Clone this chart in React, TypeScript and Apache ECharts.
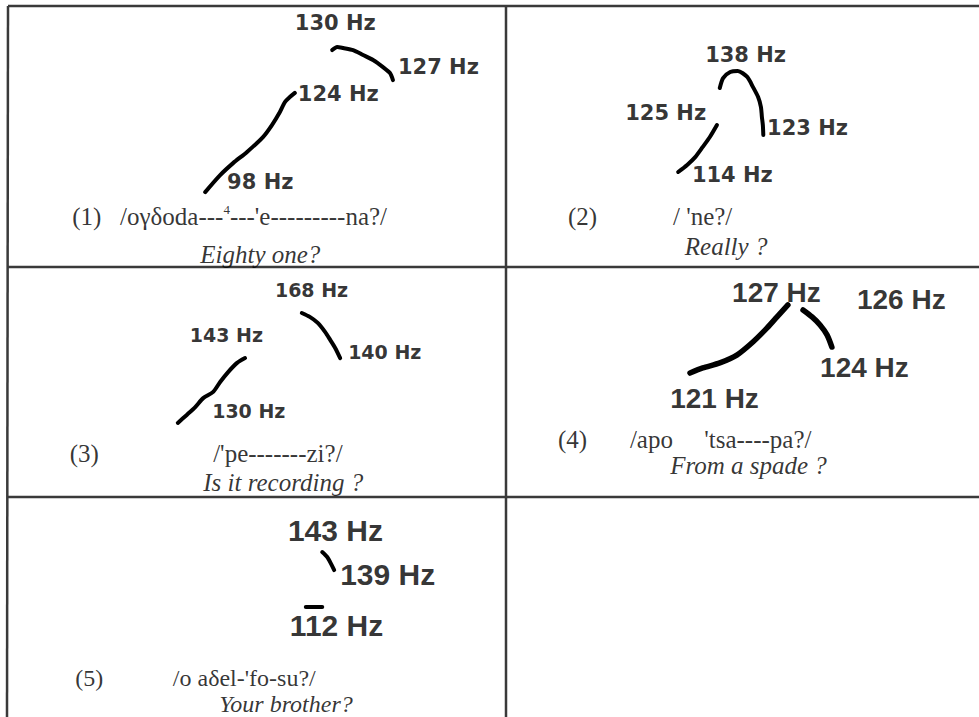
import { useEffect, useRef } from "react";
import * as echarts from "echarts";

// Pitch tracings as [time, pitch height] points, each panel on its own 0–100 frame
const trace1Rise = [[39.6, 28.7], [42.6, 35.2], [45.2, 39.8], [48.0, 44.1], [51.2, 49.8], [53.0, 54.4], [54.6, 59.4], [55.6, 63.2], [56.6, 65.1], [57.6, 66.7]];
const trace1Fall = [[65.1, 83.1], [66.1, 84.3], [67.3, 83.9], [69.3, 83.1], [71.3, 81.2], [73.3, 79.3], [75.3, 76.6], [76.7, 74.3], [77.3, 71.6]];
const trace2Rise = [[36.4, 36.4], [38.3, 39.1], [40.0, 42.1], [41.6, 46.0], [43.1, 49.8], [44.6, 54.4]];
const trace2Arch = [[45.2, 68.6], [45.9, 72.4], [47.4, 74.7], [49.0, 75.1], [51.0, 72.8], [52.2, 69.0], [53.3, 65.1], [53.9, 61.3], [54.1, 57.5], [54.3, 54.4], [54.4, 50.6]];
const trace3Rise = [[34.1, 32.2], [35.9, 35.7], [37.6, 39.1], [39.2, 43.0], [41.2, 45.7], [42.6, 50.0], [44.2, 54.3], [46.0, 58.3], [47.6, 60.4]];
const trace3Fall = [[59.0, 80.0], [60.6, 78.3], [62.2, 75.7], [63.7, 71.7], [64.7, 68.3], [65.7, 64.8], [66.7, 60.4]];
const trace4Rise = [[38.9, 53.9], [41.6, 56.1], [45.2, 58.3], [48.8, 61.7], [52.2, 67.4], [55.2, 73.5], [57.3, 78.3], [59.6, 83.5]];
const trace4Fall = [[62.8, 81.3], [64.7, 78.3], [66.4, 74.8], [67.9, 70.4], [68.9, 65.2]];
const trace5Fall = [[63.1, 75.0], [64.1, 72.7], [64.9, 69.5], [65.5, 66.8]];
const trace5Level = [[59.8, 50.0], [63.1, 50.0]];

// F0 readings (Hz) printed beside the tracings, and where each is written
const hz1 = [130, 127, 124, 98];
const hz1At = [[57.6, 93.5], [78.3, 76.6], [58.2, 66.3], [44.0, 32.6]];
const hz2 = [138, 125, 123, 114];
const hz2At = [[42.1, 81.2], [25.2, 59.0], [55.2, 53.3], [39.3, 35.2]];
const hz3 = [168, 143, 140, 130];
const hz3At = [[53.6, 90.0], [36.5, 70.4], [68.3, 63.0], [41.0, 37.4]];
const hz4 = [127, 126, 124, 121];
const hz4At = [[47.8, 89.1], [74.2, 85.7], [66.4, 56.1], [34.7, 43.0]];
const hz5 = [143, 139, 112];
const hz5At = [[56.2, 85.0], [66.7, 65.0], [56.6, 41.4]];

// Example numbers, transcriptions and glosses
const exampleNumbers = ["(1)", "(2)", "(3)", "(4)", "(5)"];
const transcriptions = [
  "/oγδoda---{sup|4}---'e---------na?/",
  "/ 'ne?/",
  "/'pe-------zi?/",
  "/apo\u00a0\u00a0\u00a0\u00a0\u00a0'tsa----pa?/",
  "/o aδel-'fo-su?/",
];
const glosses = ["Eighty one?", "Really ?", "Is it recording ?", "From a spade ?", "Your brother?"];
const numberAt = [[12.9, 19.2], [13.1, 19.2], [12.4, 18.7], [11.0, 25.2], [13.5, 17.6]];
const transcriptionAt = [[22.5, 19.2], [35.3, 19.2], [41.2, 18.7], [26.2, 25.2], [33.1, 17.6]];
const glossAt = [[38.6, 4.6], [37.8, 7.7], [39.2, 6.1], [34.7, 13.5], [42.4, 5.7]];

const panelTraces = [
  [trace1Rise, trace1Fall],
  [trace2Rise, trace2Arch],
  [trace3Rise, trace3Fall],
  [trace4Rise, trace4Fall],
  [trace5Fall, trace5Level],
];
const panelHz = [hz1, hz2, hz3, hz4, hz5];
const panelHzAt = [hz1At, hz2At, hz3At, hz4At, hz5At];

// Layout of the panels on the page
const panels = [
  { left: 8, top: 6, width: 498, height: 261 },
  { left: 506, top: 6, width: 473, height: 261 },
  { left: 8, top: 267, width: 498, height: 230 },
  { left: 506, top: 267, width: 473, height: 230 },
  { left: 8, top: 497, width: 498, height: 220 },
];
const hzFont = [
  { family: "DejaVu Sans", size: 21 },
  { family: "DejaVu Sans", size: 21 },
  { family: "DejaVu Sans", size: 19 },
  { family: "Liberation Sans", size: 28 },
  { family: "Liberation Sans", size: 30 },
];
const captionSize = [25, 25, 25, 25, 24];
const traceWidth = [4, 4, 4, 5.5, 4];

const INK = "#000";
const RULE = "#3a3a3a";
const SERIF = "'Liberation Serif', 'Times New Roman', serif";

function buildOption() {
  const grid = panels.map((p) => ({ ...p, show: false }));
  const xAxis = panels.map((_, i) => ({ type: "value", gridIndex: i, min: 0, max: 100, show: false }));
  const yAxis = panels.map((_, i) => ({ type: "value", gridIndex: i, min: 0, max: 100, show: false }));
  const series: any[] = [];

  panels.forEach((_, i) => {
    panelTraces[i].forEach((trace) => {
      series.push({
        type: "line",
        xAxisIndex: i,
        yAxisIndex: i,
        data: trace,
        smooth: 0.25,
        symbol: "none",
        silent: true,
        lineStyle: { color: INK, width: traceWidth[i], cap: "round", join: "round" },
      });
    });

    series.push({
      type: "scatter",
      xAxisIndex: i,
      yAxisIndex: i,
      symbolSize: 0,
      silent: true,
      itemStyle: { color: "transparent" },
      label: {
        show: true,
        position: "right",
        distance: 0,
        formatter: (p: any) => p.name,
        color: INK,
        fontFamily: hzFont[i].family,
        fontSize: hzFont[i].size,
        fontWeight: "bold",
      },
      data: panelHz[i].map((hz, k) => ({ name: `${hz} Hz`, value: panelHzAt[i][k] })),
    });

    series.push({
      type: "scatter",
      xAxisIndex: i,
      yAxisIndex: i,
      symbolSize: 0,
      silent: true,
      itemStyle: { color: "transparent" },
      label: {
        show: true,
        position: "right",
        distance: 0,
        formatter: (p: any) => p.name,
        color: INK,
        fontFamily: SERIF,
        fontSize: captionSize[i],
        lineHeight: captionSize[i],
        rich: {
          sup: { fontFamily: SERIF, fontSize: 13, color: INK, padding: [0, 0, 14, 0] },
        },
      },
      data: [
        { name: exampleNumbers[i], value: numberAt[i] },
        { name: transcriptions[i], value: transcriptionAt[i] },
        { name: glosses[i], value: glossAt[i], label: { fontStyle: "italic" } },
      ],
    });
  });

  const rule = (x1: number, y1: number, x2: number, y2: number) => ({
    type: "line",
    silent: true,
    shape: { x1, y1, x2, y2 },
    style: { stroke: RULE, lineWidth: 2.5 },
  });

  return {
    animation: false,
    backgroundColor: "#fff",
    grid,
    xAxis,
    yAxis,
    series,
    graphic: [
      rule(8, 6, 979, 6),
      rule(8, 6, 7, 717),
      rule(506, 6, 506, 717),
      rule(8, 267, 979, 267),
      rule(8, 497, 979, 497),
    ],
  };
}

export default function App() {
  const ref = useRef<HTMLDivElement>(null);

  useEffect(() => {
    if (!ref.current) return;
    const chart = echarts.init(ref.current, undefined, { renderer: "svg" });
    chart.setOption(buildOption() as any);
    return () => chart.dispose();
  }, []);

  return (
    <div
      ref={ref}
      style={{ position: "fixed", left: 0, top: 0, width: 979, height: 717, background: "#fff" }}
    />
  );
}
